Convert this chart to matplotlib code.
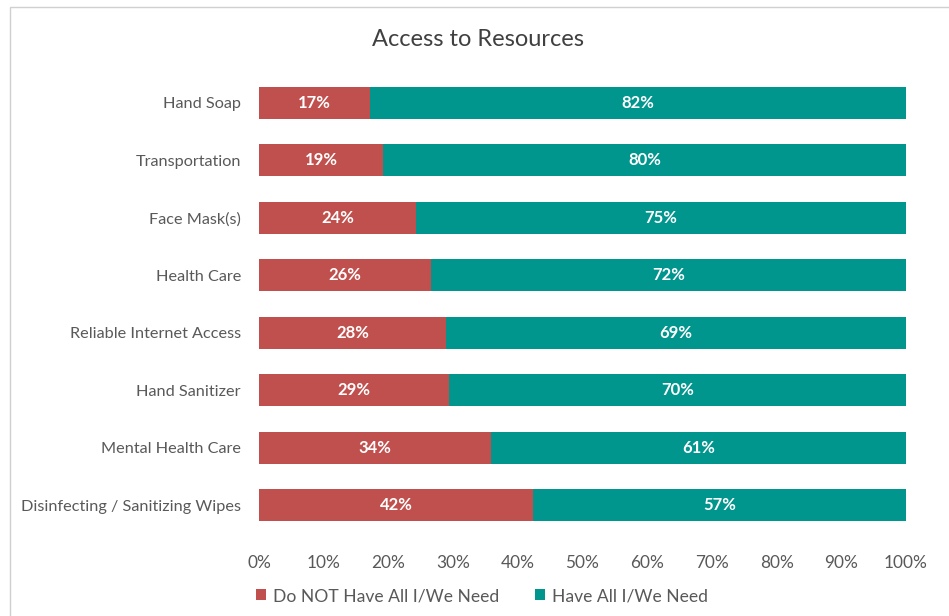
import numpy as np
import matplotlib.pyplot as plt
from matplotlib.patches import Rectangle
from matplotlib.ticker import PercentFormatter

plt.rcParams['font.family'] = ['Lato', 'DejaVu Sans']

categories = ['Hand Soap', 'Transportation', 'Face Mask(s)', 'Health Care',
              'Reliable Internet Access', 'Hand Sanitizer', 'Mental Health Care',
              'Disinfecting / Sanitizing Wipes']
do_not_have = [17, 19, 24, 26, 28, 29, 34, 42]
have_all = [82, 80, 75, 72, 69, 70, 61, 57]
series_names = ['Do NOT Have All I/We Need', 'Have All I/We Need']

red = '#C0504D'
teal = '#00958D'
grey = '#595959'

# 100% stacked: each row is scaled to fill the axis
dn = np.array(do_not_have, dtype=float)
ha = np.array(have_all, dtype=float)
tot = dn + ha
dn_share = dn / tot * 100
ha_share = ha / tot * 100

fig = plt.figure(figsize=(9.49, 6.16), dpi=100)
ax = fig.add_axes([259 / 949, 1 - 534 / 616, 647 / 949, 460 / 616])

y = np.arange(len(categories))
b1 = ax.barh(y, dn_share, height=0.56, color=red, label=series_names[0])
b2 = ax.barh(y, ha_share, left=dn_share, height=0.56, color=teal, label=series_names[1])

for bars, vals in ((b1, do_not_have), (b2, have_all)):
    ax.bar_label(bars, labels=[f'{v}%' for v in vals], label_type='center',
                 color='white', fontweight='bold', fontsize=12)

ax.set_xlim(0, 100)
ax.set_ylim(len(categories) - 0.5, -0.5)
ax.set_yticks(y, categories)
ax.set_xticks(np.arange(0, 101, 10))
ax.xaxis.set_major_formatter(PercentFormatter(decimals=0))
ax.tick_params(length=0, labelcolor=grey)
ax.tick_params(axis='y', pad=13, labelsize=11.7)
ax.tick_params(axis='x', pad=15, labelsize=12.4)
for s in ax.spines.values():
    s.set_visible(False)

fig.text(478 / 949, 1 - 39 / 616, 'Access to Resources', ha='center', va='center',
         fontsize=17, color='#404040')

fig.legend(loc='center', bbox_to_anchor=(482 / 949, 1 - 596 / 616), ncol=2,
           frameon=False, fontsize=12.6, labelcolor=grey, handlelength=0.6,
           handleheight=0.6, handletextpad=0.4, columnspacing=2.0)

# chart area border
fig.patches.append(Rectangle((10 / 949, -0.05), 1.0, 1 - 7 / 616 + 0.05,
                             transform=fig.transFigure, fill=False,
                             edgecolor='#d0d0d0', linewidth=1))

fig.savefig('out.png', dpi=100)
